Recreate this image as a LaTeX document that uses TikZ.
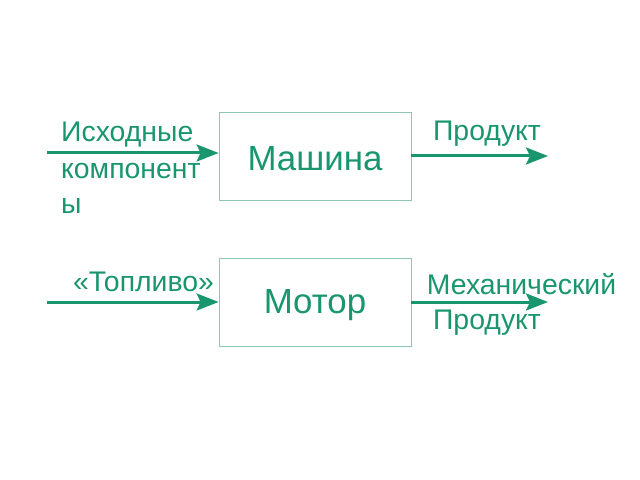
\documentclass[tikz,border=0pt]{standalone}
\usepackage{fontspec}
\setmainfont{Liberation Sans}
\usetikzlibrary{arrows.meta}
\definecolor{gr}{RGB}{26,150,110}
\definecolor{boxc}{RGB}{140,200,175}
\tikzset{
  blk/.style={draw=boxc, line width=0.8bp, minimum width=192bp, minimum height=88bp, inner sep=0, font=\fontsize{35}{40}\selectfont, text=gr},
  lbl/.style={text=gr, font=\fontsize{28.5}{33}\selectfont, inner sep=0},
  flow/.style={draw=gr, line width=3bp, -{Stealth[length=22bp,width=17bp,inset=4bp]}}
}
\begin{document}
\begin{tikzpicture}[x=1bp,y=-1bp]
\useasboundingbox (0,0) rectangle (640,480);
\node[draw=boxc, line width=0.8bp, minimum width=192bp, minimum height=88bp] (m1) at (315,156) {};
\node[draw=boxc, line width=0.8bp, minimum width=192bp, minimum height=88bp] (m2) at (315,302.5) {};
\node[text=gr, font=\fontsize{35}{40}\selectfont, inner sep=0] (m1t) at (315,159) {Машина};
\node[text=gr, font=\fontsize{35}{40}\selectfont, inner sep=0] (m2t) at (315,305) {Мотор};
\coordinate (i1) at (47,153);
\coordinate (o1) at (548,156);
\coordinate (i2) at (47,302);
\coordinate (o2) at (548,302);
\draw[flow] (i1) -- (i1 -| m1.west);
\draw[flow] (o1 -| m1.east) -- (o1);
\draw[flow] (i2) -- (i2 -| m2.west);
\draw[flow] (o2 -| m2.east) -- (o2);
\node[lbl, anchor=west] (t1) at (61,135) {Исходные};
\node[lbl, anchor=west] (t2) at (61,171) {компонент};
\node[lbl, anchor=west] (t3) at (61,206) {ы};
\node[lbl] (t4) at (487,134) {Продукт};
\node[lbl] (t5) at (143.5,282) {«Топливо»};
\node[lbl] (t6) at (521.5,284) {Механический};
\node[lbl] (t7) at (487,323) {Продукт};
\end{tikzpicture}
\end{document}
